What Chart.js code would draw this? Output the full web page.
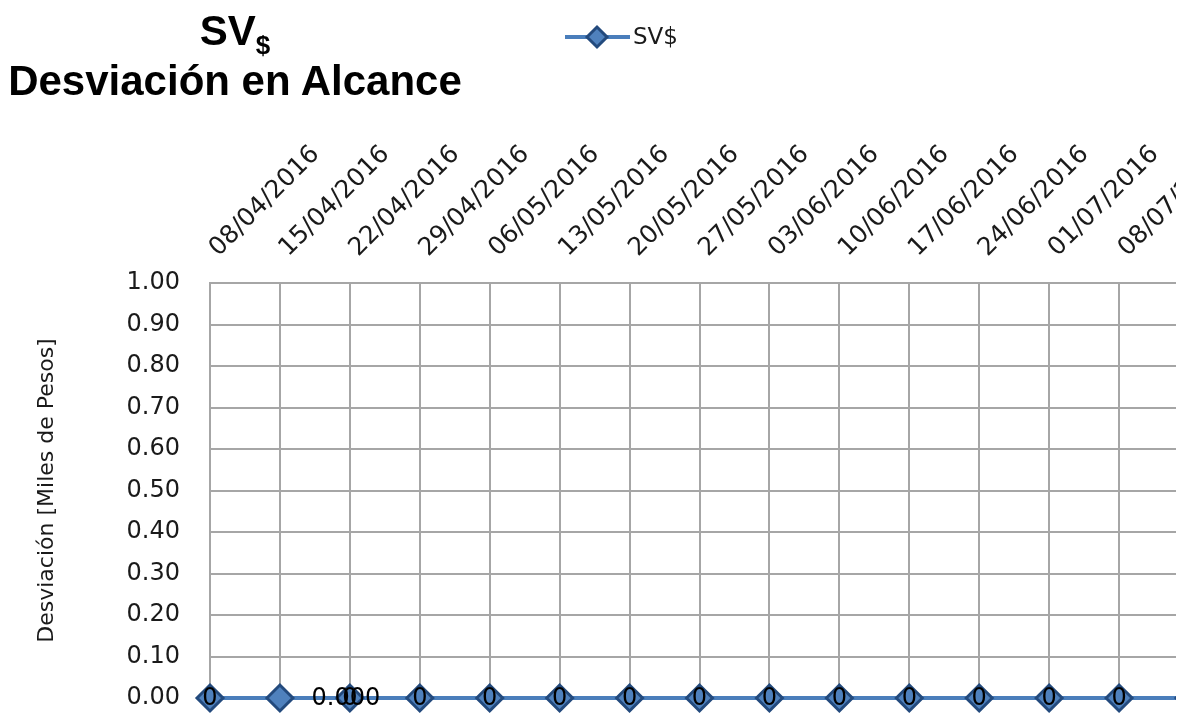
<!DOCTYPE html>
<html>
<head>
<meta charset="utf-8">
<script src="https://cdn.jsdelivr.net/npm/chart.js@4.4.0/dist/chart.umd.min.js"></script>
<style>
  html, body { margin: 0; padding: 0; background: #fff; }
  #clip { position: relative; width: 1176px; height: 715px; overflow: hidden; }
  #wrap { position: absolute; left: 0; top: 0; width: 1192px; height: 715px; }
  .ttl { position: absolute; left: 0; width: 470px; text-align: center; color: #000;
         font-family: "Liberation Sans", Arial, sans-serif; font-weight: bold; font-size: 42px;
         height: 50px; line-height: 50px; white-space: nowrap; }
  .ttl sub { font-size: 26px; vertical-align: baseline; position: relative; top: 9px; }
</style>
</head>
<body>
<div id="clip">
  <div id="wrap"><canvas id="chart"></canvas></div>
  <div class="ttl" style="top:6px">SV<sub>$</sub></div>
  <div class="ttl" style="top:56px">Desviación en Alcance</div>
</div>
<script>
// Datos
const fechas = ['08/04/2016', '15/04/2016', '22/04/2016', '29/04/2016', '06/05/2016',
                '13/05/2016', '20/05/2016', '27/05/2016', '03/06/2016', '10/06/2016',
                '17/06/2016', '24/06/2016', '01/07/2016', '08/07/2016', '15/07/2016'];
const svPesos = [0, 0, 0, 0, 0, 0, 0, 0, 0, 0, 0, 0, 0, 0, 0];
const etiquetas = ['0', '0.000', '0', '0', '0', '0', '0', '0', '0', '0', '0', '0', '0', '0', '0'];
const serieNombre = 'SV$';
const tituloEje = 'Desviación [Miles de Pesos]';

const GRID = '#a6a6a6';
const TXT = '#1a1a1a';
const FONT = 'DejaVu Sans';

// etiquetas de datos (la del 15/04 está desplazada a la derecha)
const etiquetasPlugin = {
    id: 'etiquetas',
    afterDatasetsDraw(chart) {
        const ctx = chart.ctx;
        const meta = chart.getDatasetMeta(0);
        ctx.save();
        ctx.font = '24px "' + FONT + '"';
        ctx.fillStyle = '#000';
        ctx.textAlign = 'center';
        ctx.textBaseline = 'middle';
        meta.data.forEach((pt, i) => {
            const dx = i === 1 ? 66 : 0;
            ctx.fillText(etiquetas[i], pt.x + dx, pt.y + 1);
        });
        ctx.restore();
    }
};

// leyenda dibujada a mano arriba
const leyendaPlugin = {
    id: 'leyenda',
    afterDraw(chart) {
        const ctx = chart.ctx;
        const ds = chart.data.datasets[0];
        const y = 37;
        ctx.save();
        ctx.strokeStyle = ds.borderColor;
        ctx.lineWidth = ds.borderWidth;
        ctx.beginPath();
        ctx.moveTo(565, y);
        ctx.lineTo(630, y);
        ctx.stroke();
        ctx.fillStyle = ds.pointBackgroundColor;
        ctx.strokeStyle = ds.pointBorderColor;
        ctx.lineWidth = 3;
        Chart.helpers.drawPoint(ctx, { pointStyle: 'rectRot', radius: 10, rotation: 0, borderWidth: 3 }, 597, y);
        ctx.font = '23px "' + FONT + '"';
        ctx.fillStyle = TXT;
        ctx.textBaseline = 'middle';
        ctx.fillText(ds.label, 633, y + 1);
        ctx.restore();
    }
};

const ctx = document.getElementById('chart').getContext('2d');
new Chart(ctx, {
    type: 'line',
    data: {
        labels: fechas,
        datasets: [{
            label: serieNombre,
            data: svPesos,
            borderColor: '#4a7ebb',
            borderWidth: 4,
            pointStyle: 'rectRot',
            pointRadius: 13,
            pointBackgroundColor: '#4f81bd',
            pointBorderColor: '#234a7d',
            pointBorderWidth: 3,
            tension: 0,
            clip: false
        }]
    },
    options: {
        responsive: true,
        maintainAspectRatio: false,
        animation: false,
        layout: { autoPadding: false, padding: { left: 0, right: 3, top: 0, bottom: 17 } },
        plugins: { legend: { display: false }, tooltip: { enabled: false } },
        scales: {
            x: {
                position: 'top',
                offset: false,
                grid: { color: GRID, lineWidth: 2, drawTicks: false },
                border: { color: GRID, width: 2 },
                ticks: {
                    autoSkip: false, maxRotation: 45, minRotation: 45,
                    padding: 20, labelOffset: 25,
                    color: TXT, font: { family: FONT, size: 25 }
                },
                afterFit(s) { s.height = 283; s.paddingLeft = 0; s.paddingRight = 0; }
            },
            y: {
                min: 0, max: 1,
                grid: { color: GRID, lineWidth: 2, drawTicks: false },
                border: { color: GRID, width: 2 },
                ticks: {
                    stepSize: 0.1, padding: 30,
                    color: TXT, font: { family: FONT, size: 24 },
                    callback: v => v.toFixed(2)
                },
                title: {
                    display: true, text: tituloEje,
                    color: TXT, font: { family: FONT, size: 22 },
                    padding: { top: 34 }
                },
                afterFit(s) { s.width = 210; s.paddingTop = 0; s.paddingBottom = 0; }
            }
        }
    },
    plugins: [etiquetasPlugin, leyendaPlugin]
});
</script>
</body>
</html>
